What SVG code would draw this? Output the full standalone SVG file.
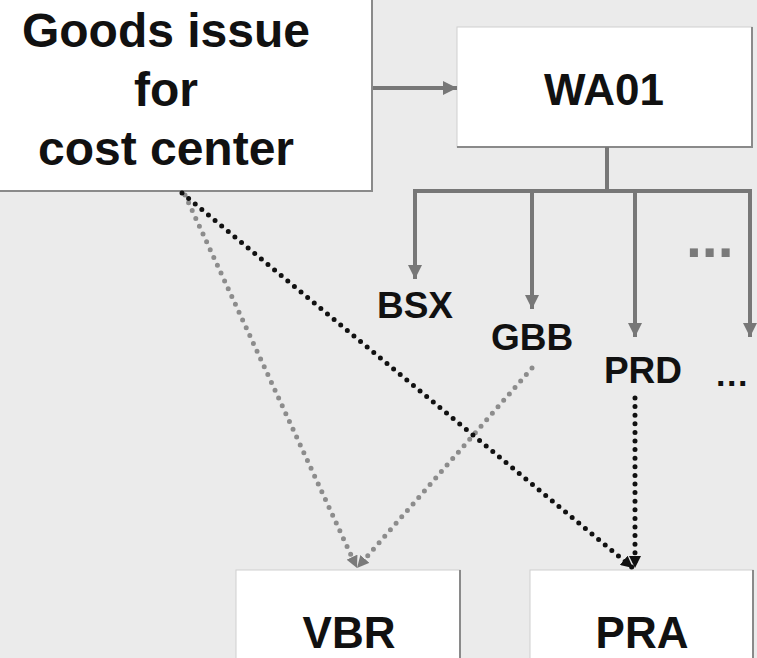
<svg xmlns="http://www.w3.org/2000/svg" width="757" height="658" viewBox="0 0 757 658">
<style>
.box{fill:#ffffff;stroke:#d0d0d0;stroke-width:1}
.shadow{fill:none;stroke:#8a8a8a;stroke-width:2}
.big{font-family:"Liberation Sans",Arial,sans-serif;font-weight:bold;font-size:48px;fill:#111;text-anchor:middle}
.name{font-family:"Liberation Sans",Arial,sans-serif;font-weight:bold;font-size:44px;fill:#111;text-anchor:middle}
.lab{font-family:"Liberation Sans",Arial,sans-serif;font-weight:bold;font-size:37px;fill:#111;text-anchor:middle}
.solid{fill:none;stroke:#777;stroke-width:4}
.dotg{fill:none;stroke:#8c8c8c;stroke-width:5;stroke-linecap:round;stroke-dasharray:0 8.6}
.dotb{fill:none;stroke:#111;stroke-width:5;stroke-linecap:round;stroke-dasharray:0 8.6}
</style>
<defs>
<marker id="ag" viewBox="0 0 10 10" refX="10" refY="5" markerWidth="14" markerHeight="14" markerUnits="userSpaceOnUse" orient="auto"><path d="M0,0 L10,5 L0,10 Z" fill="#777"/></marker>
<marker id="adg" viewBox="0 0 10 10" refX="10" refY="5" markerWidth="12" markerHeight="12" markerUnits="userSpaceOnUse" orient="auto"><path d="M0,0 L10,5 L0,10 Z" fill="#7a7a7a"/></marker>
<marker id="adb" viewBox="0 0 10 10" refX="10" refY="5" markerWidth="12" markerHeight="12" markerUnits="userSpaceOnUse" orient="auto"><path d="M0,0 L10,5 L0,10 Z" fill="#111"/></marker>
</defs>
<rect x="0" y="0" width="757" height="658" fill="#ebebeb"/>

<g id="goods-issue">
<rect class="box" x="-5" y="-5" width="377" height="196"/>
<path class="shadow" d="M372,-5 V191 H-5"/>
<text class="big" x="166" y="47">Goods issue</text>
<text class="big" x="166" y="106">for</text>
<text class="big" x="166" y="165">cost center</text>
</g>

<g id="wa01">
<rect class="box" x="457" y="27" width="295" height="120"/>
<path class="shadow" d="M752,27 V147 H457"/>
<text class="name" x="604" y="105">WA01</text>
</g>

<g id="bsx"><text class="lab" x="415" y="318">BSX</text></g>
<g id="gbb"><text class="lab" x="532" y="350">GBB</text></g>
<g id="prd"><text class="lab" x="643" y="383">PRD</text></g>
<g id="more-top"><text x="686" y="257" font-family="Liberation Sans,Arial,sans-serif" font-weight="bold" font-size="57px" fill="#7a7a7a">...</text></g>
<g id="more-prd"><text x="716" y="386" font-family="Liberation Sans,Arial,sans-serif" font-weight="bold" font-size="34px" letter-spacing="1.5" fill="#111">...</text></g>

<g id="vbr">
<rect class="box" x="236" y="570" width="224" height="100"/>
<path class="shadow" d="M460,570 V660"/>
<text class="name" x="349" y="648">VBR</text>
</g>

<g id="pra">
<rect class="box" x="530" y="570" width="223" height="100"/>
<path class="shadow" d="M753,570 V660"/>
<text class="name" x="642" y="648">PRA</text>
</g>

<g id="connectors">
<line class="solid" x1="373" y1="88" x2="457" y2="88" stroke-width="3" marker-end="url(#ag)"/>
<path class="solid" d="M607,147 V191"/>
<path class="solid" d="M415,191 H750" stroke-linecap="square"/>
<path class="solid" d="M415,191 V279" marker-end="url(#ag)"/>
<path class="solid" d="M532,191 V309" marker-end="url(#ag)"/>
<path class="solid" d="M635,191 V337" marker-end="url(#ag)"/>
<path class="solid" d="M750,191 V337" marker-end="url(#ag)"/>
<path class="dotg" d="M185,195 L357,568" marker-end="url(#adg)"/>
<path class="dotg" d="M532,368 L357,568" marker-end="url(#adg)"/>
<path class="dotb" d="M182,193 L633,568" marker-end="url(#adb)"/>
<path class="dotb" d="M635,398 L635,568" marker-end="url(#adb)"/>
</g>
</svg>
